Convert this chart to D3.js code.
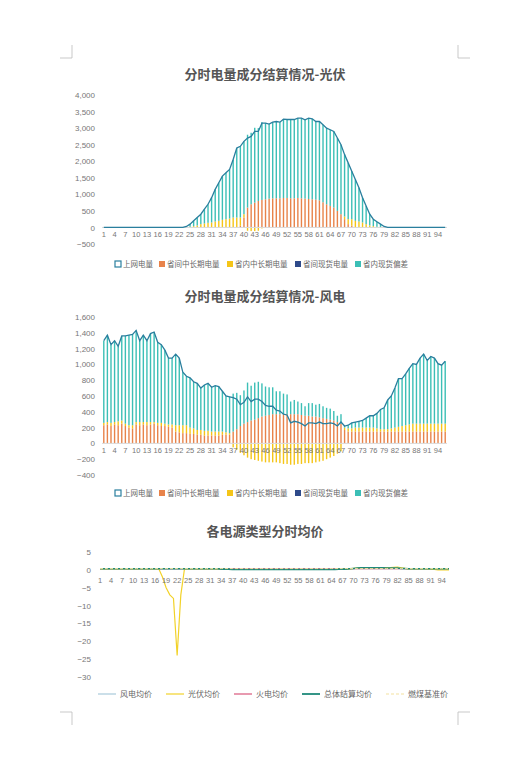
<!DOCTYPE html><html><head><meta charset="utf-8"><script src="https://cdn.jsdelivr.net/npm/d3@7"></script>
<style>body{margin:0;background:#fff}svg{font-family:"Noto Sans CJK SC","Noto Sans",sans-serif}</style></head><body><svg id="c" width="530" height="768"></svg>
<script>
const slots=d3.range(1,97);
const pvTotal=[0,0,0,0,0,0,0,0,0,0,0,0,0,0,0,0,0,0,0,0,0,0,0,30,100,200,300,400,550,700,900,1150,1350,1550,1650,1750,2050,2400,2450,2600,2700,2750,2900,2900,3150,3150,3120,3180,3200,3180,3270,3260,3260,3260,3300,3300,3250,3300,3280,3200,3200,3100,3000,2950,2900,2700,2500,2200,1950,1700,1450,1200,900,650,400,250,170,100,30,0,0,0,0,0,0,0,0,0,0,0,0,0,0,0,0,0];
const pvInter=[0,0,0,0,0,0,0,0,0,0,0,0,0,0,0,0,0,0,0,0,0,0,0,0,0,0,0,0,0,0,0,0,0,0,0,0,0,0,50,300,600,700,750,800,830,850,870,880,880,880,890,890,880,880,890,880,870,860,850,840,820,760,700,650,600,500,400,250,100,50,0,0,0,0,0,0,0,0,0,0,0,0,0,0,0,0,0,0,0,0,0,0,0,0,0,0];
const pvIntra=[0,0,0,0,0,0,0,0,0,0,0,0,0,0,0,0,0,0,0,0,0,0,0,0,20,40,60,100,120,140,150,180,200,230,250,270,300,300,250,100,-100,-110,-110,-100,-30,0,0,0,0,0,0,0,0,0,0,0,0,0,0,0,0,0,0,0,0,0,0,80,150,200,200,180,150,100,60,40,20,10,0,0,0,0,0,0,0,0,0,0,0,0,0,0,0,0,0,0];
const wdTotal=[1300,1370,1250,1300,1230,1360,1360,1370,1380,1430,1300,1370,1300,1390,1410,1280,1250,1180,1080,1080,1130,1080,900,850,830,780,760,700,740,760,710,730,720,660,600,590,580,560,490,520,590,530,560,560,530,480,470,470,420,410,370,360,260,280,270,250,220,260,260,250,270,250,250,260,250,220,270,220,230,260,270,280,290,320,350,350,380,430,450,550,600,700,820,820,880,950,1010,1000,1080,1130,1050,1100,1080,1010,990,1040];
const wdInter=[230,240,220,240,230,250,220,200,190,240,230,240,230,240,250,230,220,220,210,200,150,140,130,130,120,120,110,110,100,100,100,100,100,110,110,110,150,180,220,250,270,290,300,320,340,350,360,370,370,370,370,370,370,370,370,360,350,350,340,340,330,320,310,300,290,270,250,170,150,150,150,150,150,150,150,150,150,150,150,150,150,150,150,150,150,150,150,150,150,150,150,150,150,150,150,150];
const wdIntra=[30,30,40,30,50,40,30,30,40,30,40,30,40,30,20,30,40,30,30,40,80,90,100,100,80,70,60,60,60,60,50,50,50,40,30,20,-50,-80,-120,-150,-180,-200,-210,-220,-230,-240,-240,-240,-240,-250,-260,-260,-270,-270,-260,-260,-250,-250,-250,-240,-230,-220,-200,-180,-160,-130,-100,30,40,40,50,50,50,50,50,50,40,30,30,30,40,50,60,70,80,90,100,100,100,100,100,100,100,100,100,100];
const prWind=slots.map(()=>0.3), prThermal=slots.map(()=>0.3);
const prSolar=[0.3,0.3,0.3,0.3,0.3,0.3,0.3,0.3,0.3,0.3,0.3,0.3,0.3,0.3,0.3,0.3,0.3,-2,-5,-7,-8,-24,-7,0.3,0.3,0.3,0.3,0.3,0.3,0.3,0.3,0.3,0.3,0.2,0.1,0.1,0.1,0.1,0.1,0.1,0.1,0.1,0.1,0.1,0.1,0.1,0.1,0.1,0.1,0.1,0.1,0.1,0.1,0.1,0.1,0.1,0.1,0.1,0.1,0.1,0.1,0.1,0.1,0.1,0.1,0.2,0.2,0.2,0.3,0.4,0.5,0.6,0.6,0.6,0.6,0.6,0.6,0.6,0.6,0.6,0.7,0.8,0.6,0.4,0.3,0.3,0.3,0.3,0.3,0.3,0.2,0.1,0,0,0,0];
const prTotal=[0.3,0.3,0.3,0.3,0.3,0.3,0.3,0.3,0.3,0.3,0.3,0.3,0.3,0.3,0.3,0.3,0.3,0.3,0.3,0.3,0.3,0.3,0.3,0.3,0.3,0.3,0.3,0.3,0.3,0.3,0.3,0.3,0.3,0.2,0.2,0.2,0.1,0.1,0.1,0.1,0.1,0.1,0.1,0.1,0.1,0.1,0.1,0.1,0.1,0.1,0.1,0.1,0.1,0.1,0.1,0.1,0.1,0.1,0.1,0.1,0.1,0.1,0.1,0.1,0.1,0.2,0.2,0.2,0.3,0.4,0.5,0.6,0.6,0.6,0.6,0.6,0.6,0.6,0.5,0.5,0.5,0.5,0.4,0.4,0.3,0.3,0.3,0.3,0.3,0.3,0.3,0.3,0.3,0.3,0.3,0.3];
const prCoal=slots.map(()=>0.35);
const barLegend=["上网电量","省间中长期电量","省内中长期电量","省间现货电量","省内现货偏差"];
const priceLegend=["风电均价","光伏均价","火电均价","总体结算均价","燃煤基准价"];
const C={line:"#2a7f9e",inter:"#e8834a",intra:"#f5c518",spot:"#2e4a8a",dev:"#3cbfb6"};
const svg=d3.select("#c");
const L=102,R=447;
// crop marks
[[72,45,72,58,60,58],[458,45,458,58,470,58],[72,712,72,725,60,712],[458,712,458,725,470,712]].forEach(m=>{
 svg.append("path").attr("d",`M${m[0]},${m[1]}L${m[2]},${m[3]}M${m[4]},${m[5]}L${m[0]},${m[5]}`).attr("stroke","#bbb").attr("fill","none").attr("stroke-width",0.8);});
function barChart(o){
 const x=d3.scaleBand().domain(slots).range([L,R]);
 const y=d3.scaleLinear().domain([o.min,o.max]).range([o.y1,o.y0]);
 svg.append("text").attr("x",265).attr("y",o.ty).attr("text-anchor","middle").attr("font-size",13).attr("font-weight","bold").attr("fill","#555").text(o.title);
 const ax=svg.append("g").attr("transform",`translate(${L-4},0)`).call(d3.axisLeft(y).tickValues(d3.range(o.min,o.max+1,o.step)).tickSize(0));
 ax.select(".domain").remove();ax.selectAll("text").attr("font-size",8).attr("fill","#777").attr("text-anchor","end").attr("font-family","Liberation Sans, sans-serif");
 const bw=1.4,g=svg.append("g");
 slots.forEach((s,i)=>{const cx=x(s)+x.bandwidth()/2-bw/2;
  const a=o.inter[i],b=o.intra[i];const pos=a+Math.max(b,0);const dev=o.total[i]-a-b;
  g.append("rect").attr("x",cx).attr("width",bw).attr("y",y(a)).attr("height",y(0)-y(a)).attr("fill",C.inter);
  if(b>0)g.append("rect").attr("x",cx).attr("width",bw).attr("y",y(a+b)).attr("height",y(a)-y(a+b)).attr("fill",C.intra);
  if(b<0)g.append("rect").attr("x",cx).attr("width",bw).attr("y",y(0)).attr("height",y(b)-y(0)).attr("fill",C.intra);
  if(dev>0)g.append("rect").attr("x",cx).attr("width",bw).attr("y",y(pos+dev)).attr("height",y(pos)-y(pos+dev)).attr("fill",C.dev);
 });
 svg.append("line").attr("x1",L).attr("x2",R).attr("y1",y(0)).attr("y2",y(0)).attr("stroke","#d9d9d9");
 svg.append("path").datum(o.total).attr("fill","none").attr("stroke",C.line).attr("stroke-width",1.3)
  .attr("d",d3.line().x((d,i)=>x(slots[i])+x.bandwidth()/2).y(d=>y(d)));
 xTicks(x,y(0)+10);
 legend(o.ly,barLegend,[C.line,C.inter,C.intra,C.spot,C.dev],true);
}
function xTicks(x,yy){slots.filter(s=>s%3===1).forEach(s=>svg.append("text").attr("x",x(s)+x.bandwidth()/2).attr("y",yy).attr("text-anchor","middle").attr("font-size",7.5).attr("fill","#777").attr("font-family","Liberation Sans, sans-serif").text(s));}
function legend(ly,names,cols,box){
 const ws=names.map(n=>n.length*8+12);const tot=d3.sum(ws)+ (box?0:names.length*18);
 let cx=265-tot/2;
 names.forEach((n,i)=>{
  if(box){ if(i===0)svg.append("rect").attr("x",cx).attr("y",ly-4).attr("width",6).attr("height",6).attr("fill","none").attr("stroke",cols[i]).attr("stroke-width",1.2);
   else svg.append("rect").attr("x",cx).attr("y",ly-4).attr("width",6).attr("height",6).attr("fill",cols[i]);
   svg.append("text").attr("x",cx+8).attr("y",ly+2).attr("font-size",7.5).attr("fill","#666").text(n);cx+=ws[i];}
  else{svg.append("line").attr("x1",cx).attr("x2",cx+18).attr("y1",ly).attr("y2",ly).attr("stroke",cols[i]).attr("stroke-width",i===3?1.8:1.2).attr("stroke-dasharray",i===4?"3,2":null);
   svg.append("text").attr("x",cx+22).attr("y",ly+3).attr("font-size",8).attr("fill","#666").text(n);cx+=ws[i]+18+6;}
 });
}
barChart({title:"分时电量成分结算情况-光伏",ty:79,min:-500,max:4000,step:500,y0:95,y1:244,total:pvTotal,inter:pvInter,intra:pvIntra,ly:265});
barChart({title:"分时电量成分结算情况-风电",ty:301,min:-400,max:1600,step:200,y0:317,y1:475,total:wdTotal,inter:wdInter,intra:wdIntra,ly:494});
// price chart
{const x=d3.scalePoint().domain(slots).range([L-2,R+2]);
 const y=d3.scaleLinear().domain([-30,5]).range([677,552]);
 svg.append("text").attr("x",265).attr("y",536).attr("text-anchor","middle").attr("font-size",13).attr("font-weight","bold").attr("fill","#555").text("各电源类型分时均价");
 const ax=svg.append("g").attr("transform",`translate(${L-8},0)`).call(d3.axisLeft(y).tickValues(d3.range(-30,6,5)).tickSize(0));
 ax.select(".domain").remove();ax.selectAll("text").attr("font-size",8).attr("fill","#777").attr("font-family","Liberation Sans, sans-serif");
 const ln=d3.line().x((d,i)=>x(slots[i])).y(d=>y(d));
 [[prWind,"#a8cadb",1],[prThermal,"#d9577b",1],[prSolar,"#f2d229",1.2],[prTotal,"#1f8a7a",1.6],[prCoal,"#f3e2a0",1,"3,2"]].forEach(s=>
  svg.append("path").datum(s[0]).attr("fill","none").attr("stroke",s[1]).attr("stroke-width",s[2]).attr("stroke-dasharray",s[3]||null).attr("d",ln));
 slots.filter(s=>s%3===1).forEach(s=>svg.append("text").attr("x",x(s)).attr("y",583).attr("text-anchor","middle").attr("font-size",7.5).attr("fill","#777").attr("font-family","Liberation Sans, sans-serif").text(s));
 legend(694,priceLegend,["#a8cadb","#f2d229","#d9577b","#1f8a7a","#f3e2a0"],false);
}
</script></body></html>
